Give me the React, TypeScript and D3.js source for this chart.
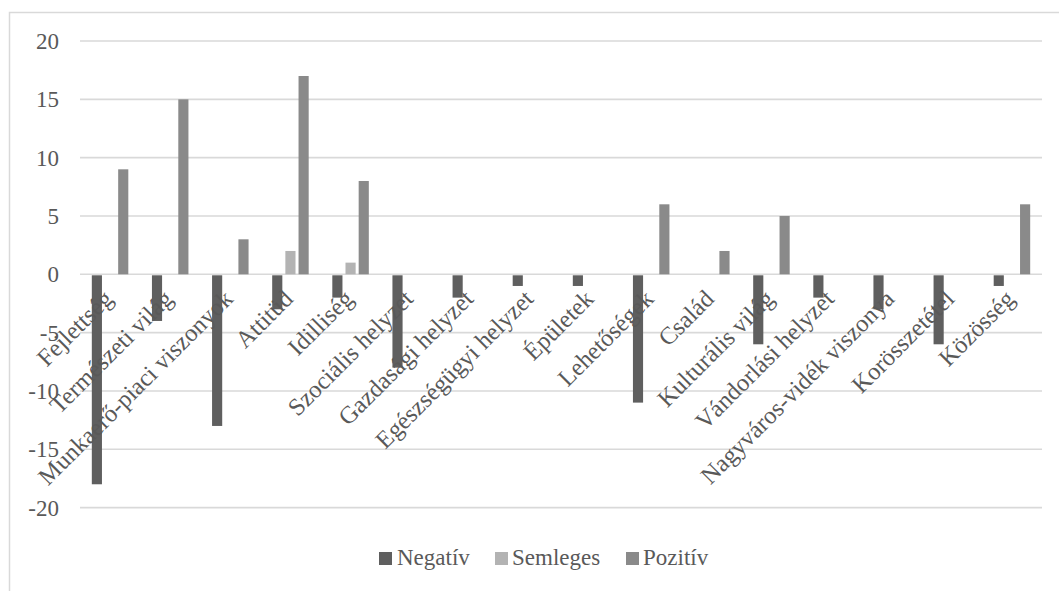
import React from "react";
import * as d3 from "d3";

const categories: string[] = [
  "Fejlettség",
  "Természeti világ",
  "Munkaerő-piaci viszonyok",
  "Attitüd",
  "Idilliség",
  "Szociális helyzet",
  "Gazdasági helyzet",
  "Egészségügyi helyzet",
  "Épületek",
  "Lehetőségek",
  "Család",
  "Kulturális világ",
  "Vándorlási helyzet",
  "Nagyváros-vidék viszonya",
  "Korösszetétel",
  "Közösség",
];

const seriesNames: string[] = ["Negatív", "Semleges", "Pozitív"];
const negativ: number[] = [-18, -4, -13, -3, -2, -8, -2, -1, -1, -11, 0, -6, -2, -3, -6, -1];
const semleges: number[] = [0, 0, 0, 2, 1, 0, 0, 0, 0, 0, 0, 0, 0, 0, 0, 0];
const pozitiv: number[] = [9, 15, 3, 17, 8, 0, 0, 0, 0, 6, 2, 5, 0, 0, 0, 6];
const yTicks: number[] = [-20, -15, -10, -5, 0, 5, 10, 15, 20];
const colors: string[] = ["#5f5f5f", "#b3b3b3", "#8a8a8a"];

const W = 1059;
const H = 591;
const FONT = "'Liberation Serif', 'Times New Roman', serif";
const TEXT = "#595959";
const GRID = "#d9d9d9";
const txtStyle = { fontFamily: FONT };

export default function App() {
  const values = [negativ, semleges, pozitiv];
  const x0 = d3.scaleBand<string>().domain(categories).range([80, 1042]).padding(0);
  const x1 = d3.scaleBand<string>().domain(seriesNames).range([0, 36.5]).paddingInner(0.23);
  const y = d3.scaleLinear().domain([-20, 20]).range([507.6, 41]);
  const groupOffset = (x0.bandwidth() - 36.5) / 2;

  const legendItems = [
    { name: seriesNames[0], sx: 379, tx: 397 },
    { name: seriesNames[1], sx: 495, tx: 512 },
    { name: seriesNames[2], sx: 626, tx: 643 },
  ];

  return (
    <svg
      width={W}
      height={H}
      style={{ position: "absolute", left: 0, top: 0, background: "#fff" }}
    >
      <rect x={0} y={0} width={W} height={H} fill="#fff" />
      <rect x={9.5} y={12.5} width={1080} height={620} fill="#fff" stroke={GRID} strokeWidth={1.5} />
      {yTicks.map((t) => (
        <g key={t}>
          <line x1={80} x2={1042} y1={y(t)} y2={y(t)} stroke={GRID} strokeWidth={1.6} />
          <text x={59} y={y(t)} dy="0.35em" textAnchor="end" fontSize={23} fill={TEXT} style={txtStyle}>
            {t}
          </text>
        </g>
      ))}
      {categories.map((c, i) => (
        <g key={c} transform={`translate(${x0(c)! + groupOffset},0)`}>
          {seriesNames.map((s, k) => {
            const v = values[k][i];
            if (v === 0) return null;
            const y0 = y(0);
            const yv = y(v);
            return (
              <rect
                key={s}
                x={x1(s)!}
                width={x1.bandwidth()}
                y={Math.min(y0, yv) + (v < 0 ? 1 : 0)}
                height={Math.abs(yv - y0) - (v < 0 ? 1 : 0)}
                fill={colors[k]}
              />
            );
          })}
        </g>
      ))}
      {categories.map((c) => {
        const cx = x0(c)! + x0.bandwidth() / 2;
        return (
          <text
            key={c}
            transform={`translate(${cx + 4},${y(0) + 26}) rotate(-45)`}
            textAnchor="end"
            fontSize={24.5}
            fill={TEXT}
            style={txtStyle}
          >
            {c}
          </text>
        );
      })}
      {legendItems.map((it, k) => (
        <g key={it.name}>
          <rect x={it.sx} y={552} width={13} height={13} fill={colors[k]} />
          <text x={it.tx} y={565} fontSize={23} fill={TEXT} style={txtStyle}>
            {it.name}
          </text>
        </g>
      ))}
    </svg>
  );
}
